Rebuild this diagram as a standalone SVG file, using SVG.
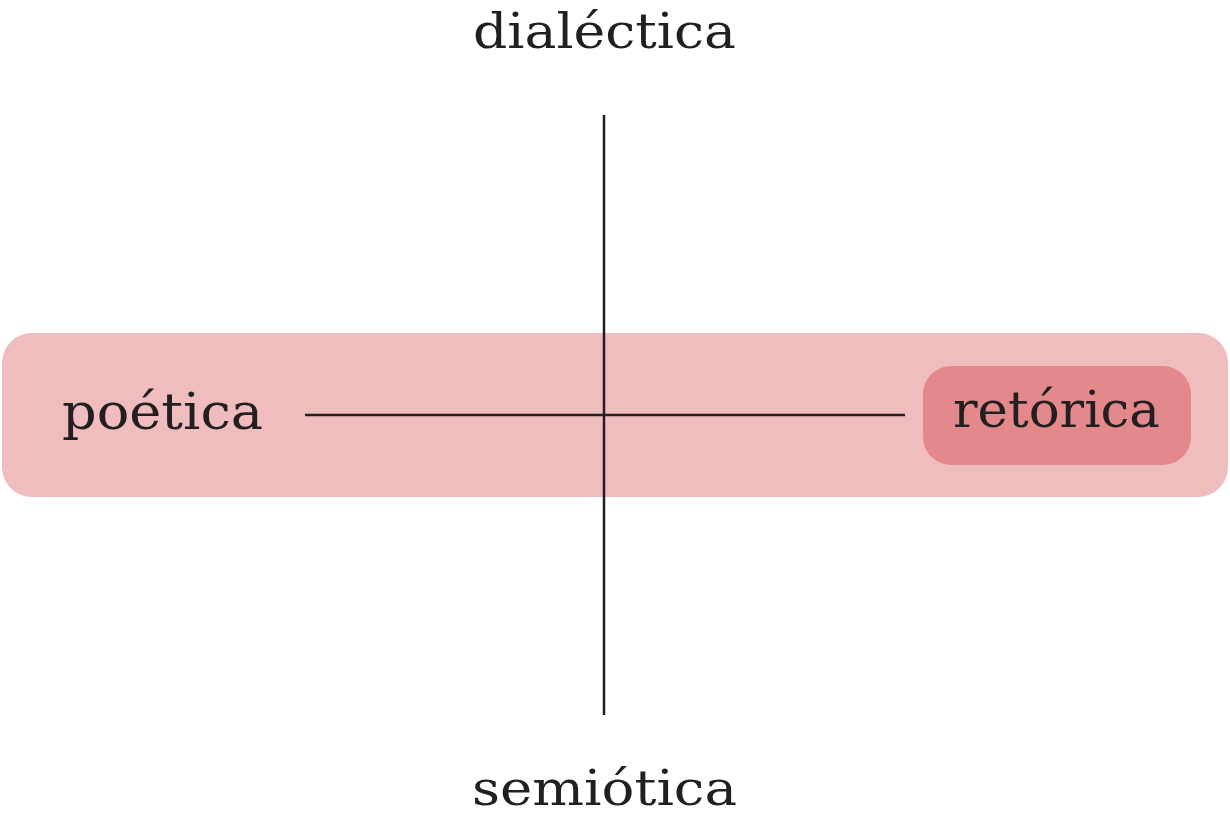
<svg xmlns="http://www.w3.org/2000/svg" width="1230" height="817" viewBox="0 0 1230 817">
<style>
.lbl{font-family:"DejaVu Serif","Liberation Serif",serif;font-size:50px;fill:#231F20;}
.ln{stroke:#231F20;stroke-width:2.5;fill:none;}
</style>
<rect width="1230" height="817" fill="#ffffff"/>
<g id="band"><rect x="2" y="333" width="1226" height="164" rx="30" fill="#F0BDBF"/></g>
<g id="node-retorica">
<rect x="923" y="366" width="268" height="99" rx="28" fill="#E3898C"/>
<text class="lbl" x="953" y="427" textLength="207" lengthAdjust="spacingAndGlyphs">retórica</text>
</g>
<g id="connectors">
<line class="ln" x1="604" y1="115" x2="604" y2="715"/>
<line class="ln" x1="305" y1="415" x2="905" y2="415"/>
</g>
<g id="node-dialectica"><text class="lbl" x="473" y="48" textLength="263" lengthAdjust="spacingAndGlyphs" style="font-size:48px">dialéctica</text></g>
<g id="node-semiotica"><text class="lbl" x="472" y="805" textLength="265" lengthAdjust="spacingAndGlyphs" style="font-size:48px">semiótica</text></g>
<g id="node-poetica"><text class="lbl" x="62" y="429" textLength="201" lengthAdjust="spacingAndGlyphs">poética</text></g>
</svg>
